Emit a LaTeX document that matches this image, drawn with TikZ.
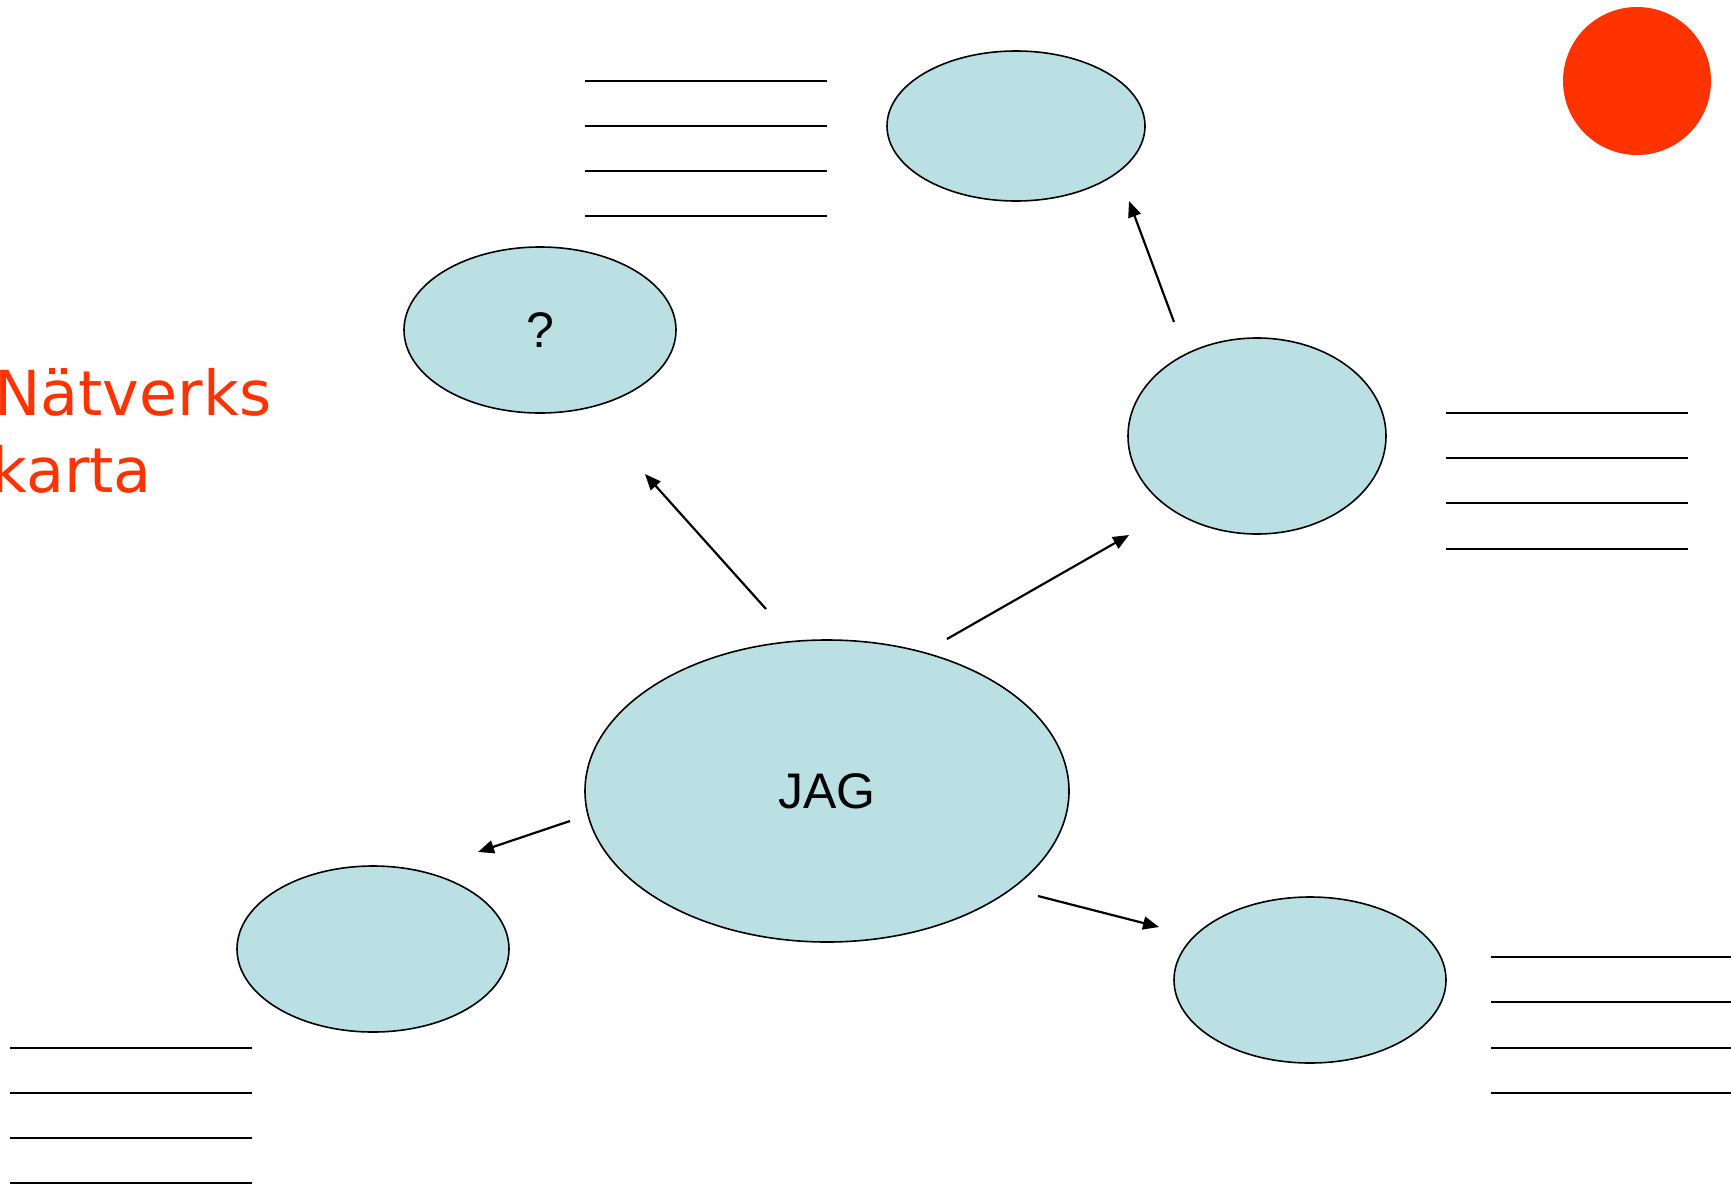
\documentclass[tikz,border=0pt]{standalone}
\usepackage{fontspec}
\setmainfont{Liberation Sans}
\newfontfamily\titlefont{DejaVu Sans}
\usetikzlibrary{shapes.geometric,arrows.meta}
\definecolor{bubble}{HTML}{BAE0E4}
\definecolor{signal}{HTML}{FF3300}
\tikzset{
  bubble/.style={ellipse,draw=black,line width=1.6pt,fill=bubble,inner sep=0pt,font=\fontsize{50}{60}\selectfont},
  link/.style={line width=2.2pt,-{Triangle[length=16pt,width=13pt]}},
  rule/.style={line width=1.8pt}
}
\begin{document}
\begin{tikzpicture}[x=1pt,y=-1pt]
\clip (0,0) rectangle (1731,1186);
\fill[white] (0,0) rectangle (1731,1186);

% title
\node[anchor=base west,text=signal,font=\titlefont\fontsize{62}{77}\selectfont,inner sep=0pt] (title1) at (-6,415) {Nätverks};
\node[anchor=base west,text=signal,font=\titlefont\fontsize{62}{77}\selectfont,inner sep=0pt] (title2) at (-9,492) {karta};

% red marker
\fill[signal] (1637,81) circle (74);

% bubbles
\node[bubble,minimum width=258,minimum height=150] (top) at (1016,126) {};
\node[bubble,minimum width=272,minimum height=166] (ask) at (540,330) {?};
\node[bubble,minimum width=258,minimum height=196] (right) at (1257,436) {};
\node[bubble,minimum width=484,minimum height=302] (me) at (827,791) {JAG};
\node[bubble,minimum width=272,minimum height=166] (lowleft) at (373,949) {};
\node[bubble,minimum width=272,minimum height=166] (lowright) at (1310,980) {};

% writing lines
\foreach \y in {81,126,171,216} \draw[rule] (585,\y) -- (827,\y);
\foreach \y in {413,458,503,549} \draw[rule] (1446,\y) -- (1688,\y);
\foreach \y in {957,1002,1048,1093} \draw[rule] (1491,\y) -- (1731,\y);
\foreach \y in {1048,1093,1138,1183} \draw[rule] (10,\y) -- (252,\y);

% arrow ends
\coordinate (a1s) at (766,609);  \coordinate (a1e) at (645,474);
\coordinate (a2s) at (947,639);  \coordinate (a2e) at (1129,535);
\coordinate (a3s) at (1174,322); \coordinate (a3e) at (1129,201);
\coordinate (a4s) at (570,821);  \coordinate (a4e) at (478,852);
\coordinate (a5s) at (1038,896); \coordinate (a5e) at (1159,927);

\draw[link] (a1s) -- (a1e);
\draw[link] (a2s) -- (a2e);
\draw[link] (a3s) -- (a3e);
\draw[link] (a4s) -- (a4e);
\draw[link] (a5s) -- (a5e);
\end{tikzpicture}
\end{document}
